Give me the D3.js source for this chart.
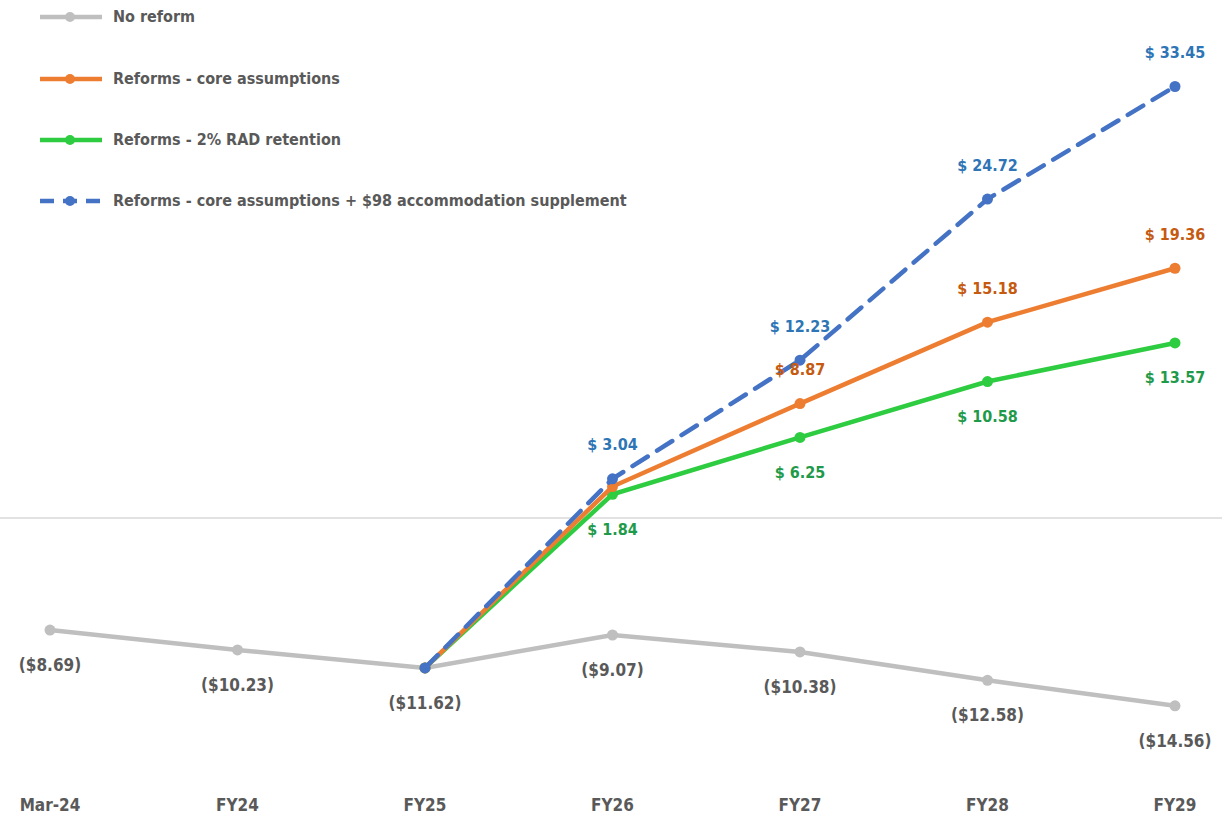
<!DOCTYPE html>
<html>
<head>
<meta charset="utf-8">
<script src="https://cdn.jsdelivr.net/npm/d3@7"></script>
<style>
  body { margin: 0; background: #fff; }
  svg { font-family: "Liberation Sans Narrow", "DejaVu Sans Condensed", "Roboto Condensed", sans-serif; font-weight: bold; }
</style>
</head>
<body>
<svg width="1229" height="824"></svg>
<script>
// data
var categories = ["Mar-24", "FY24", "FY25", "FY26", "FY27", "FY28", "FY29"];
var noReform   = [-8.69, -10.23, -11.62, -9.07, -10.38, -12.58, -14.56];
var coreAssump = [null, null, -11.62, 2.44, 8.87, 15.18, 19.36];
var radRetain  = [null, null, -11.62, 1.84, 6.25, 10.58, 13.57];
var suppAssump = [null, null, -11.62, 3.04, 12.23, 24.72, 33.45];
var seriesNames = ["No reform", "Reforms - core assumptions", "Reforms - 2% RAD retention",
  "Reforms - core assumptions + $98 accommodation supplement"];

var series = [
  {name: seriesNames[0], values: noReform,   color: "#bfbfbf", text: "#595959", dash: null,    labelPos: "below", labelFrom: 0, fs: 17},
  {name: seriesNames[1], values: coreAssump, color: "#ed7d31", text: "#c55a11", dash: null,    labelPos: "above", labelFrom: 4, fs: 16},
  {name: seriesNames[2], values: radRetain,  color: "#2ecc40", text: "#1f9a4a", dash: null,    labelPos: "below", labelFrom: 3, fs: 16},
  {name: seriesNames[3], values: suppAssump, color: "#4472c4", text: "#2e75b6", dash: "18,11", labelPos: "above", labelFrom: 3, fs: 16}
];

var svg = d3.select("svg");

var x = d3.scalePoint().domain(categories).range([50, 1175]);
var y = d3.scaleLinear().domain([-20, 40]).range([776, 2]);

// zero line
svg.append("line")
  .attr("x1", 0).attr("x2", 1222)
  .attr("y1", y(0)).attr("y2", y(0))
  .style("stroke", "#d9d9d9").style("stroke-width", 1.3);

// category labels
svg.append("g").selectAll("text")
  .data(categories).enter().append("text")
  .attr("x", function(d) { return x(d); })
  .attr("y", 806)
  .attr("dominant-baseline", "middle")
  .attr("text-anchor", "middle")
  .style("font-size", "17px")
  .style("fill", "#595959")
  .text(function(d) { return d; });

var line = d3.line()
  .defined(function(d) { return d != null; })
  .x(function(d, i) { return x(categories[i]); })
  .y(function(d) { return y(d); });

function fmt(v) {
  return v < 0 ? "($" + Math.abs(v).toFixed(2) + ")" : "$ " + v.toFixed(2);
}

// grey first, then reform lines, blue on top
[0, 2, 1, 3].forEach(function(k) {
  var s = series[k];
  svg.append("path")
    .datum(s.values)
    .style("fill", "none")
    .style("stroke", s.color)
    .style("stroke-width", 4.5)
    .style("stroke-linecap", "round")
    .style("stroke-dasharray", s.dash)
    .attr("d", line);

  var pts = s.values.map(function(v, i) { return {v: v, i: i}; })
    .filter(function(p) { return p.v != null; });

  svg.append("g").selectAll("circle")
    .data(pts).enter().append("circle")
    .attr("cx", function(p) { return x(categories[p.i]); })
    .attr("cy", function(p) { return y(p.v); })
    .attr("r", 5.5)
    .style("fill", s.color);
});

// data labels
series.forEach(function(s) {
  var pts = s.values.map(function(v, i) { return {v: v, i: i}; })
    .filter(function(p) { return p.v != null && p.i >= s.labelFrom; });
  svg.append("g").selectAll("text")
    .data(pts).enter().append("text")
    .attr("x", function(p) { return x(categories[p.i]); })
    .attr("y", function(p) { return y(p.v) + (s.labelPos === "above" ? -33 : 36); })
    .attr("dominant-baseline", "middle")
    .attr("text-anchor", "middle")
    .style("font-size", s.fs + "px")
    .style("fill", s.text)
    .text(function(p) { return fmt(p.v); });
});

// legend
var legend = svg.append("g");
var rows = [17, 79, 140, 201];
series.forEach(function(s, i) {
  var g = legend.append("g").attr("transform", "translate(0," + rows[i] + ")");
  g.append("line")
    .attr("x1", 40).attr("x2", 102).attr("y1", 0).attr("y2", 0)
    .style("stroke", s.color).style("stroke-width", 4.5)
    .style("stroke-dasharray", s.dash ? "14,9" : null);
  g.append("circle").attr("cx", 70).attr("cy", 0).attr("r", 5).style("fill", s.color);
  g.append("text")
    .attr("x", 113).attr("y", 0)
    .attr("dominant-baseline", "middle")
    .style("font-size", "16px")
    .style("fill", "#595959")
    .text(s.name);
});
</script>
</body>
</html>
